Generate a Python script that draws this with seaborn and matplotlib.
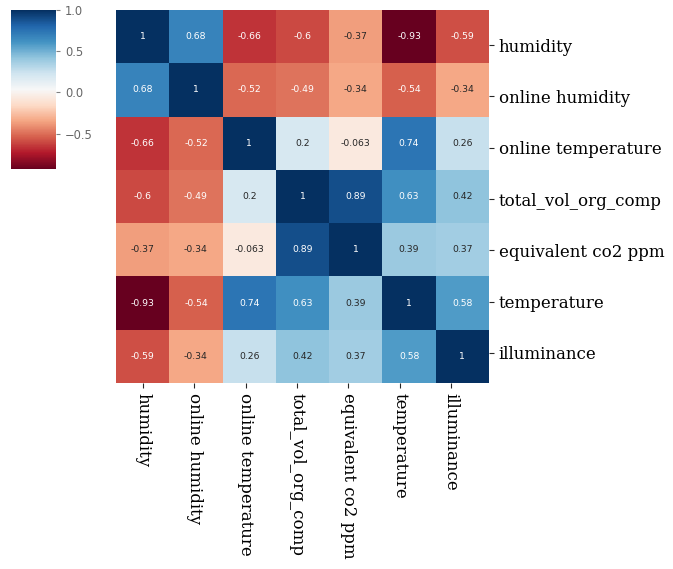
import numpy as np
import pandas as pd
import matplotlib
matplotlib.use("Agg")
import matplotlib.pyplot as plt
import seaborn as sns

labels = ["humidity", "online humidity", "online temperature",
          "total_vol_org_comp", "equivalent co2 ppm", "temperature", "illuminance"]
r_humidity = [1, 0.68, -0.66, -0.6, -0.37, -0.93, -0.59]
r_online_humidity = [0.68, 1, -0.52, -0.49, -0.34, -0.54, -0.34]
r_online_temperature = [-0.66, -0.52, 1, 0.2, -0.063, 0.74, 0.26]
r_tvoc = [-0.6, -0.49, 0.2, 1, 0.89, 0.63, 0.42]
r_co2 = [-0.37, -0.34, -0.063, 0.89, 1, 0.39, 0.37]
r_temperature = [-0.93, -0.54, 0.74, 0.63, 0.39, 1, 0.58]
r_illuminance = [-0.59, -0.34, 0.26, 0.42, 0.37, 0.58, 1]
cbar_ticks = [-0.5, 0.0, 0.5, 1.0]

df = pd.DataFrame([r_humidity, r_online_humidity, r_online_temperature, r_tvoc,
                   r_co2, r_temperature, r_illuminance], index=labels, columns=labels)

W, H = 673, 569
fig = plt.figure(figsize=(W / 100, H / 100), dpi=100)
ax = fig.add_axes([116 / W, 1 - 383 / H, 373 / W, 373 / H])
cax = fig.add_axes([11 / W, 1 - 169 / H, 45 / W, 159 / H])

sns.heatmap(df, ax=ax, cbar_ax=cax, cmap="RdBu", annot=True,
            annot_kws={"fontsize": 6.7}, cbar_kws={"ticks": cbar_ticks})
ax.set_xticks([])
ax.set_yticks([])
ax.set_xlabel("")
ax.set_ylabel("")

# label axes (labels in the reference sit on a slightly tighter grid)
lab = fig.add_axes([117.35 / W, 1 - 378.65 / H, 359.3 / W, 359.3 / H])
lab.patch.set_visible(False)
lab.spines["right"].set_position(("outward", (489 - 476.65) * 0.72))
lab.spines["bottom"].set_position(("outward", (383 - 378.65) * 0.72))
for s in lab.spines.values():
    s.set_visible(False)
n = len(labels)
pos = np.arange(n) + 0.5
lab.set_xlim(0, n)
lab.set_ylim(n, 0)
lab.yaxis.tick_right()
lab.set_yticks(pos)
lab.set_yticklabels(labels, rotation=0, family="DejaVu Serif", fontsize=12)
lab.set_xticks(pos)
lab.set_xticklabels(labels, rotation=270, family="DejaVu Serif", fontsize=12)
lab.tick_params(axis="both", length=3.5, color="0.15", pad=3.5)

cax.tick_params(labelsize=8.3, labelcolor="0.4", color="0.5", length=3)

fig.savefig("out.png", dpi=100)
